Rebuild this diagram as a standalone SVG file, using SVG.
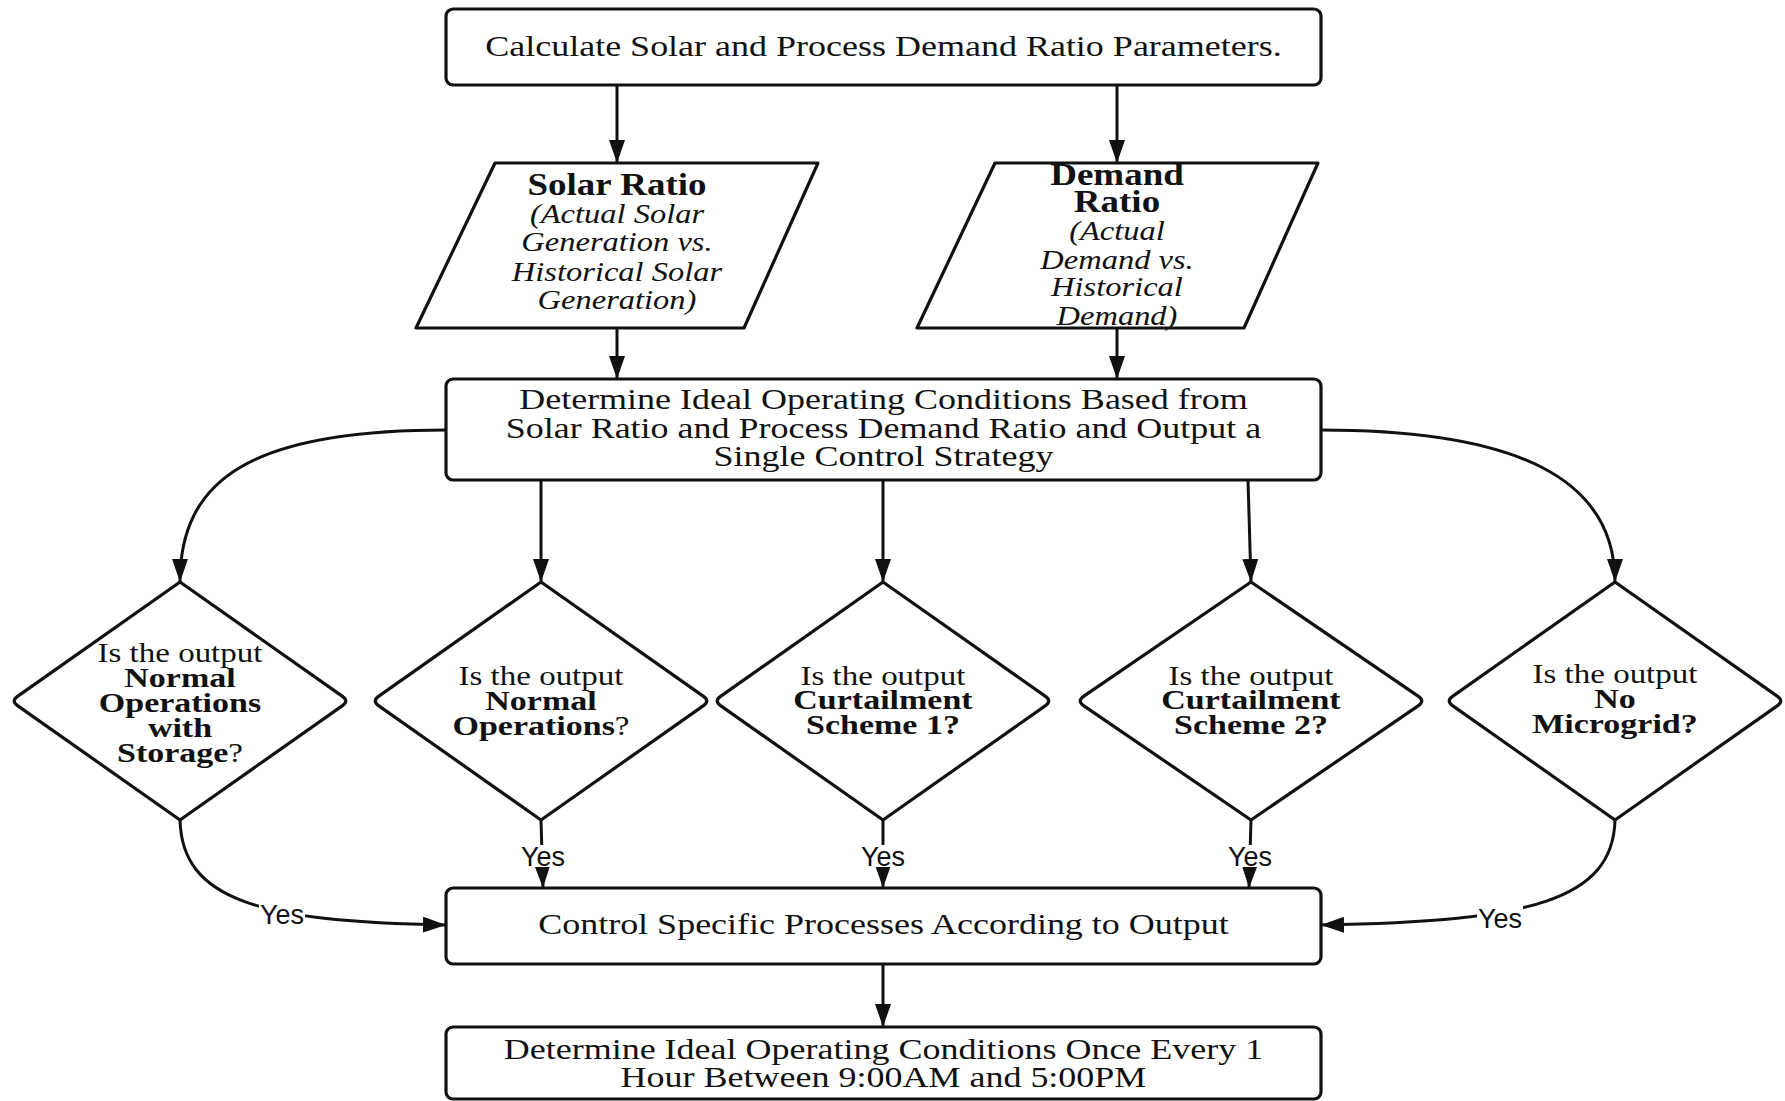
<svg xmlns="http://www.w3.org/2000/svg" width="1785" height="1101" viewBox="0 0 1785 1101">
<style>
.box{fill:#fff;stroke:#111;stroke-width:3.2}
.shape{fill:#fff;stroke:#111;stroke-width:3.2;stroke-linejoin:round}
.t{font-family:"Liberation Serif","Times New Roman",serif;font-size:36px;fill:#111;text-anchor:middle}
.d{font-family:"Liberation Serif","Times New Roman",serif;font-size:33px;fill:#111;text-anchor:middle}
.p{font-family:"Liberation Serif","Times New Roman",serif;font-size:32.5px;fill:#111;text-anchor:middle}
.b{font-weight:bold}
.db{font-weight:bold;font-size:34px}
.pb{font-weight:bold;font-size:37px}
.i{font-style:italic}
.c{fill:none;stroke:#111;stroke-width:3}
.y{font-family:"Liberation Sans",Arial,sans-serif;font-size:27px;fill:#111;text-anchor:middle}
.bg{fill:#fff}
</style>
<defs>
<marker id="ah" markerUnits="userSpaceOnUse" markerWidth="26" markerHeight="18" refX="23" refY="8" orient="auto">
<path d="M0,0 L23,8 L0,16 z" fill="#111"/>
</marker>
<path id="dia" d="M0,-119 L-162.5,-4.6 Q-169,0 -162.5,4.6 L0,119 L162.5,4.6 Q169,0 162.5,-4.6 Z"/>
<path id="dia4" d="M0,-119 L-167.5,-4.6 Q-174,0 -167.5,4.6 L0,119 L167.5,4.6 Q174,0 167.5,-4.6 Z"/>
</defs>
<rect width="1785" height="1101" fill="#fff"/>

<g id="connectors">
<path class="c" d="M617,85 L617,163" marker-end="url(#ah)"/>
<path class="c" d="M1117,85 L1117,163" marker-end="url(#ah)"/>
<path class="c" d="M617,328 L617,379" marker-end="url(#ah)"/>
<path class="c" d="M1117,328 L1117,379" marker-end="url(#ah)"/>
<path class="c" d="M446,430 C250,430 180,480 180,582" marker-end="url(#ah)"/>
<path class="c" d="M541,480 L541,582" marker-end="url(#ah)"/>
<path class="c" d="M883,480 L883,582" marker-end="url(#ah)"/>
<path class="c" d="M1248,480 L1251,582" marker-end="url(#ah)"/>
<path class="c" d="M1321,430 C1520,430 1615,480 1615,582" marker-end="url(#ah)"/>
<path class="c" d="M180,820 C182,900 260,922 446,925" marker-end="url(#ah)"/>
<path class="c" d="M541,820 L543,888" marker-end="url(#ah)"/>
<path class="c" d="M883,820 L883,888" marker-end="url(#ah)"/>
<path class="c" d="M1251,820 L1249,888" marker-end="url(#ah)"/>
<path class="c" d="M1615,820 C1613,900 1530,922 1321,925" marker-end="url(#ah)"/>
<path class="c" d="M883,964 L883,1027" marker-end="url(#ah)"/>
<rect class="bg" x="259" y="902" width="46" height="24"/>
<text class="y" x="282" y="924">Yes</text>
<rect class="bg" x="520" y="845" width="46" height="22"/>
<text class="y" x="543" y="866">Yes</text>
<rect class="bg" x="860" y="845" width="46" height="22"/>
<text class="y" x="883" y="866">Yes</text>
<rect class="bg" x="1227" y="845" width="46" height="22"/>
<text class="y" x="1250" y="866">Yes</text>
<rect class="bg" x="1477" y="906" width="46" height="24"/>
<text class="y" x="1500" y="928">Yes</text>
</g>

<g id="calc">
<rect class="box" x="446" y="9" width="875" height="76" rx="7"/>
<text class="t" transform="matrix(1 0 0 0.84 0 56)" x="883.5" y="0">Calculate Solar and Process Demand Ratio Parameters.</text>
</g>

<g id="solar">
<path class="shape" d="M495,163 L818,163 L744,328 L416,328 Z"/>
<text class="p pb" transform="matrix(1 0 0 0.84 0 195)" x="617" y="0">Solar Ratio</text>
<text class="p i" transform="matrix(1 0 0 0.84 0 223)" x="617" y="0">(Actual Solar</text>
<text class="p i" transform="matrix(1 0 0 0.84 0 251)" x="617" y="0">Generation vs.</text>
<text class="p i" transform="matrix(1 0 0 0.84 0 281)" x="617" y="0">Historical Solar</text>
<text class="p i" transform="matrix(1 0 0 0.84 0 309)" x="617" y="0">Generation)</text>
</g>

<g id="demand">
<path class="shape" d="M995,163 L1318,163 L1244,328 L917,328 Z"/>
<text class="p pb" transform="matrix(1 0 0 0.84 0 185)" x="1117" y="0">Demand</text>
<text class="p pb" transform="matrix(1 0 0 0.84 0 212)" x="1117" y="0">Ratio</text>
<text class="p i" transform="matrix(1 0 0 0.84 0 240)" x="1117" y="0">(Actual</text>
<text class="p i" transform="matrix(1 0 0 0.84 0 269)" x="1117" y="0">Demand vs.</text>
<text class="p i" transform="matrix(1 0 0 0.84 0 296)" x="1117" y="0">Historical</text>
<text class="p i" transform="matrix(1 0 0 0.84 0 325)" x="1117" y="0">Demand)</text>
</g>

<g id="determine">
<rect class="box" x="446" y="379" width="875" height="101" rx="7"/>
<text class="t" transform="matrix(1 0 0 0.84 0 409)" x="883.5" y="0">Determine Ideal Operating Conditions Based from</text>
<text class="t" transform="matrix(1 0 0 0.84 0 438)" x="883.5" y="0">Solar Ratio and Process Demand Ratio and Output a</text>
<text class="t" transform="matrix(1 0 0 0.84 0 466)" x="883.5" y="0">Single Control Strategy</text>
</g>

<g id="q1">
<use href="#dia" x="180" y="701" class="shape"/>
<text class="d" transform="matrix(1 0 0 0.82 0 662)" x="180" y="0">Is the output</text>
<text class="d db" transform="matrix(1 0 0 0.82 0 687)" x="180" y="0">Normal</text>
<text class="d db" transform="matrix(1 0 0 0.82 0 712)" x="180" y="0">Operations</text>
<text class="d db" transform="matrix(1 0 0 0.82 0 737)" x="180" y="0">with</text>
<text class="d" transform="matrix(1 0 0 0.82 0 762)" x="180" y="0"><tspan class="db">Storage</tspan>?</text>
</g>

<g id="q2">
<use href="#dia" x="541" y="701" class="shape"/>
<text class="d" transform="matrix(1 0 0 0.82 0 685)" x="541" y="0">Is the output</text>
<text class="d db" transform="matrix(1 0 0 0.82 0 710)" x="541" y="0">Normal</text>
<text class="d" transform="matrix(1 0 0 0.82 0 735)" x="541" y="0"><tspan class="db">Operations</tspan>?</text>
</g>

<g id="q3">
<use href="#dia" x="883" y="701" class="shape"/>
<text class="d" transform="matrix(1 0 0 0.82 0 685)" x="883" y="0">Is the output</text>
<text class="d db" transform="matrix(1 0 0 0.82 0 709)" x="883" y="0">Curtailment</text>
<text class="d db" transform="matrix(1 0 0 0.82 0 734)" x="883" y="0">Scheme 1?</text>
</g>

<g id="q4">
<use href="#dia4" x="1251" y="701" class="shape"/>
<text class="d" transform="matrix(1 0 0 0.82 0 685)" x="1251" y="0">Is the output</text>
<text class="d db" transform="matrix(1 0 0 0.82 0 709)" x="1251" y="0">Curtailment</text>
<text class="d db" transform="matrix(1 0 0 0.82 0 734)" x="1251" y="0">Scheme 2?</text>
</g>

<g id="q5">
<use href="#dia" x="1615" y="701" class="shape"/>
<text class="d" transform="matrix(1 0 0 0.82 0 683)" x="1615" y="0">Is the output</text>
<text class="d db" transform="matrix(1 0 0 0.82 0 708)" x="1615" y="0">No</text>
<text class="d db" transform="matrix(1 0 0 0.82 0 733)" x="1615" y="0">Microgrid?</text>
</g>

<g id="control">
<rect class="box" x="446" y="888" width="875" height="76" rx="7"/>
<text class="t" transform="matrix(1 0 0 0.84 0 934)" x="883.5" y="0">Control Specific Processes According to Output</text>
</g>

<g id="repeat">
<rect class="box" x="446" y="1027" width="875" height="72" rx="7"/>
<text class="t" transform="matrix(1 0 0 0.84 0 1059)" x="883.5" y="0">Determine Ideal Operating Conditions Once Every 1</text>
<text class="t" transform="matrix(1 0 0 0.84 0 1087)" x="883.5" y="0">Hour Between 9:00AM and 5:00PM</text>
</g>
</svg>
